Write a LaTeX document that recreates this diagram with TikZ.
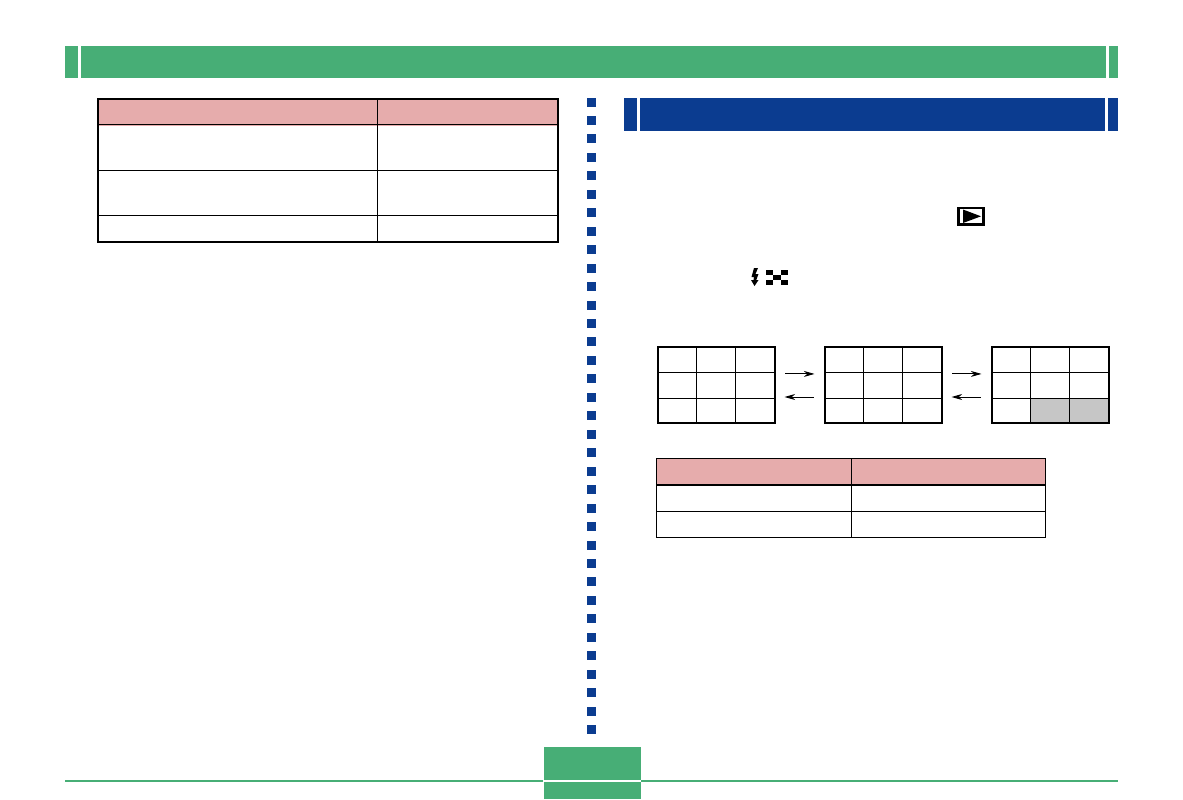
\documentclass[tikz,border=0pt]{standalone}
\usepackage{tikz}
\usetikzlibrary{arrows.meta,positioning}
\definecolor{bargreen}{HTML}{47AE76}
\definecolor{barblue}{HTML}{0B3C90}
\definecolor{headpink}{HTML}{E6ACAC}
\definecolor{cellgray}{HTML}{C6C6C6}
\begin{document}
\begin{tikzpicture}[
        x=0.75pt, y=-0.75pt,
        greenbar/.style={fill=bargreen, draw=none},
        bluebar/.style={fill=barblue, draw=none},
        headcell/.style={fill=headpink, draw=none},
        outerline/.style={draw=black, line width=1.5pt},
        innerline/.style={draw=black, line width=0.75pt},
        gridbox/.style={draw=black, line width=1.5pt, anchor=north west, outer sep=0pt, inner sep=0pt, minimum width=87.75pt, minimum height=57pt},
        arrow/.style={-{Stealth[length=8pt, width=4.5pt, inset=2.5pt]}, line width=0.7pt, shorten >=7.5pt, shorten <=8pt}
    ]
    \useasboundingbox (0,0) rectangle (1183,800);
    % header bars
    \fill[greenbar] (65,46) rectangle (78,78);
    \fill[greenbar] (81,46) rectangle (1106,78);
    \fill[greenbar] (1109,46) rectangle (1118,78);
    \fill[bluebar] (624,98) rectangle (637,131);
    \fill[bluebar] (640,98) rectangle (1105,131);
    \fill[bluebar] (1108,98) rectangle (1118,131);
    % dotted column
    \foreach \dotnum in {0,...,34}
        \fill[bluebar] (587,{97.5+18.46*\dotnum}) rectangle (596,{106.5+18.46*\dotnum});
    % left table
    \fill[headcell] (97.5,98.5) rectangle (558,125.5);
    \draw[innerline] (97.5,124.5) -- (558,124.5);
    \draw[innerline] (97.5,170.5) -- (558,170.5);
    \draw[innerline] (97.5,215.5) -- (558,215.5);
    \draw[innerline] (377.5,98.5) -- (377.5,242);
    \draw[outerline] (98,98.5) rectangle (558,242);
    % play and flash icons
    \draw[line width=2pt] (958.4,208) rectangle (983.8,224.8);
    \fill (963,209.5) -- (981,216.3) -- (963,223) -- cycle;
    \fill (754,268) -- (758,268) -- (755.5,274) -- (758.5,274) -- (756.3,280) -- (758.5,280) -- (754.5,286) -- (751,280) -- (753.5,280) -- (754,277) -- (751.5,277) -- cycle;
    \foreach \cx/\cy in {0/0,2/0,1/1,0/2,2/2}
        \fill ({766+7.33*\cx},{270+5*\cy}) rectangle ({766+7.33*(\cx+1)},{270+5*(\cy+1)});
    % grey cells go under the grids
    \fill[cellgray] (1030.5,398.5) rectangle (1108,423);
    % grids
    \foreach \gridname/\gridx in {gridA/657.5,gridB/824.5,gridC/991.5} {
        \node[gridbox] (\gridname) at (\gridx,347) {};
        \draw[innerline] ({\gridx+39},347) -- ({\gridx+39},423);
        \draw[innerline] ({\gridx+78},347) -- ({\gridx+78},423);
        \draw[innerline] (\gridx,372.5) -- ({\gridx+117},372.5);
        \draw[innerline] (\gridx,398.5) -- ({\gridx+117},398.5);
    }
    \draw[arrow] ([yshift=8.3pt]gridA.east) -- ([yshift=8.3pt]gridB.west);
    \draw[arrow] ([yshift=-9pt]gridB.west) -- ([yshift=-9pt]gridA.east);
    \draw[arrow] ([yshift=8.3pt]gridB.east) -- ([yshift=8.3pt]gridC.west);
    \draw[arrow] ([yshift=-9pt]gridC.west) -- ([yshift=-9pt]gridB.east);
    % lower table
    \fill[headcell] (656.5,458.5) rectangle (1045.5,484.5);
    \draw[line width=1.3pt] (656.5,485) -- (1045.5,485);
    \draw[innerline] (656.5,511.5) -- (1045.5,511.5);
    \draw[innerline] (851.5,458.5) -- (851.5,537.5);
    \draw[innerline] (656.5,458.5) rectangle (1045.5,537.5);
    % footer
    \fill[greenbar] (65,780) rectangle (543,782);
    \fill[greenbar] (641,780) rectangle (1118,782);
    \fill[greenbar] (544,747) rectangle (641,780);
    \fill[greenbar] (544,782) rectangle (641,799);
\end{tikzpicture}
\end{document}
